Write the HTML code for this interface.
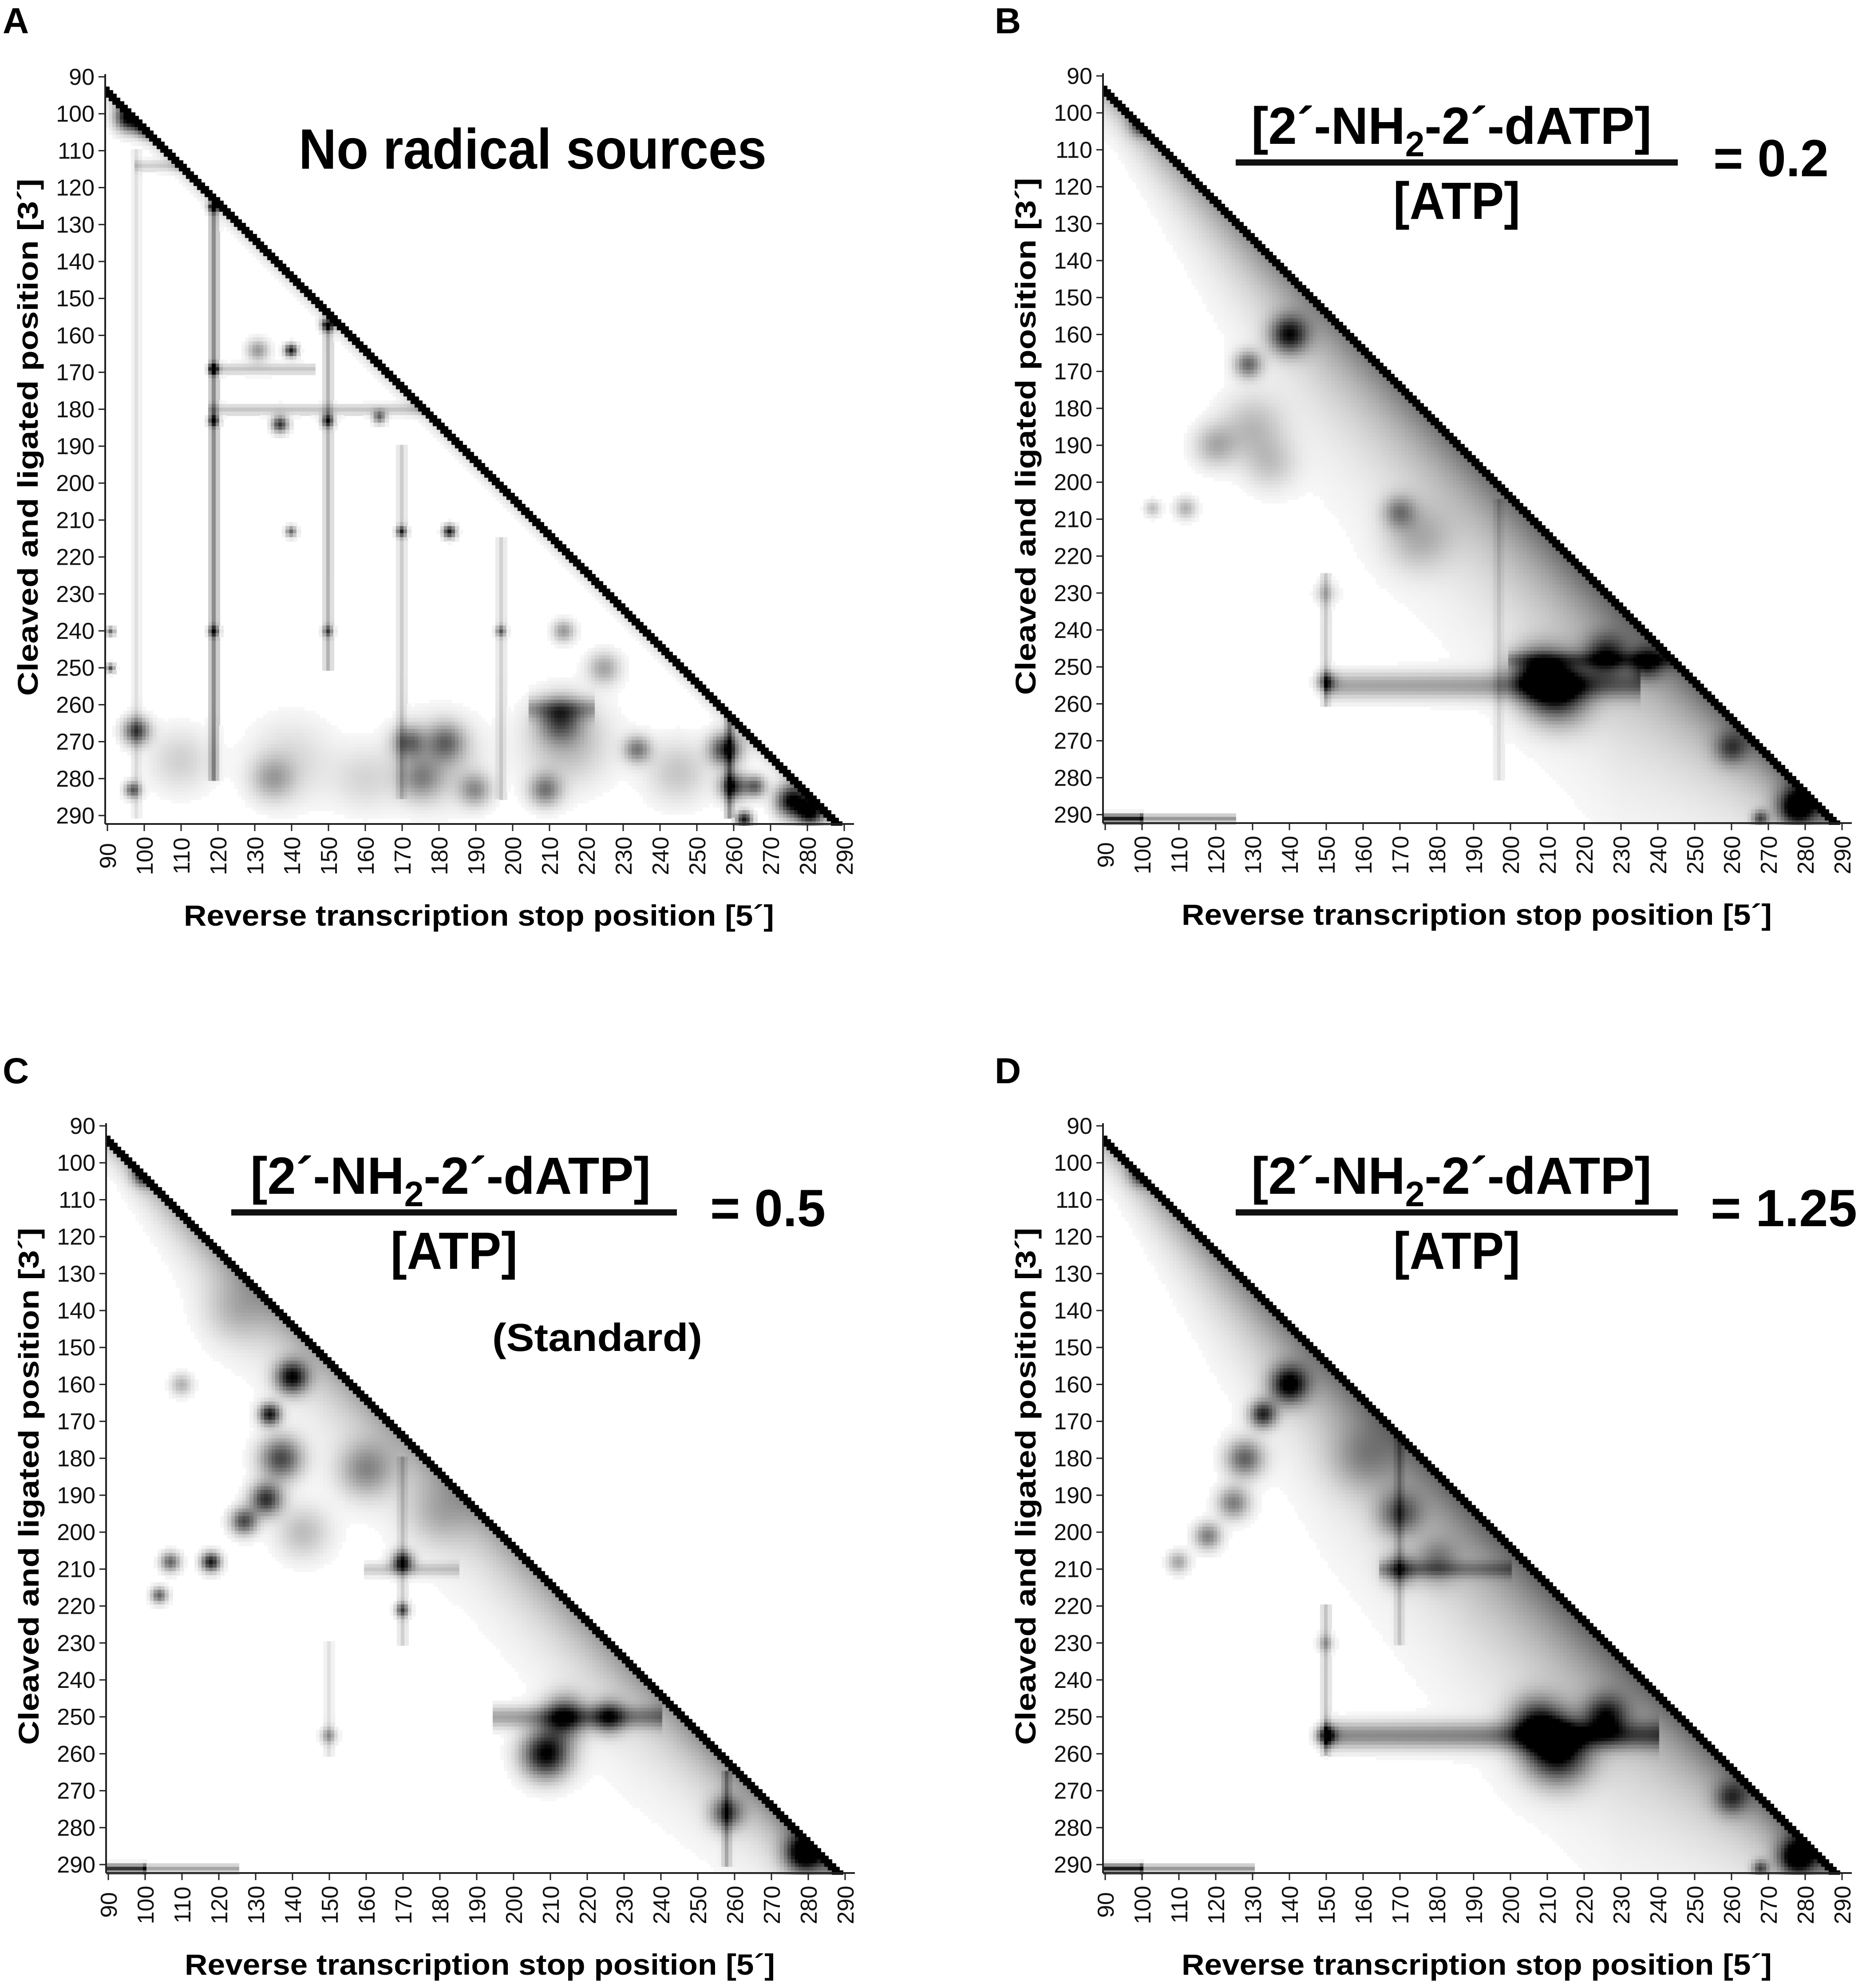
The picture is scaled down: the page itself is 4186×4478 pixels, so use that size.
<!DOCTYPE html>
<html><head><meta charset="utf-8">
<style>
html,body{margin:0;padding:0;background:#fff;}
#root{position:relative;width:4186px;height:4478px;overflow:hidden;background:#fff;}
canvas{position:absolute;left:0;top:0;}
svg{position:absolute;left:0;top:0;}
</style></head>
<body>
<div id="root">
<canvas id="cv" width="4186" height="4478"></canvas>
<svg id="sv" width="4186" height="4478" xmlns="http://www.w3.org/2000/svg"></svg>
</div>
<script>
// ---- axis tick values ----
const tickValues = [90,100,110,120,130,140,150,160,170,180,190,200,210,220,230,240,250,260,270,280,290];
const panelLetters = ["A","B","C","D"];

// ---- Panel A data (col = RT stop position, row = cleaved/ligated position) ----
const spotColA = [96,101,119,150,140,119,131,137,150,164,119,183,170,140,98,97,172,182,213,209,234,258,260,266,276,281,263,197,119,150,91,91,214,225,175,135,190,110,140,180,215,245,160];
const spotRowA = [101,103,125,157,164,169,164,184,183,182,183,213,213,213,267,283,270,270,264,283,272,272,282,282,286,289,291,240,240,240,250,240,240,250,280,280,283,275,275,275,270,278,280];
const spotValA = [1.0,1,0.9,0.9,0.9,0.7,0.4,0.8,0.7,0.6,0.7,0.9,0.7,0.6,0.7,0.6,0.5,0.45,0.55,0.5,0.5,0.8,0.8,0.6,1,1,0.9,0.5,0.6,0.5,0.7,0.6,0.4,0.35,0.35,0.3,0.4,0.18,0.15,0.22,0.28,0.22,0.15];
const spotSpreadA = [2.5,2,1,1.2,1.2,1,2,1.5,1.2,1.2,1,1.2,1,1,2.5,1.5,3,3.5,4,3,2.5,3,2.5,2,3,2.5,1.5,1,1,1,0.8,0.8,2,3,4,4,3,6,8,8,8,6,6];
const vCol_A = [119,150,170,98,197,259];
const vStart_A = [125,157,190,110,215,262];
const vEnd_A = [280,250,285,290,285,290];
const vVal_A = [0.45,0.3,0.2,0.12,0.18,0.4];
const hRow_A = [180,169,261,114];
const hStart_A = [118,118,205,98];
const hEnd_A = [176,146,222,116];
const hVal_A = [0.22,0.22,0.3,0.18];
const hSpreadA = [1,1,2,1];
const haloColA = [90,290];
const haloValA = [0.15,0.15];
const haloDecayA = [2,2];

// ---- Panel B data ----
const spotColB = [100,140,129,120,112,103,170,213,207,226,237,150,260,278,268,150,130,135,175];
const spotRowB = [103,160,168,190,207,207,208,256,252,247,249,254,272,288,291,230,185,195,215];
const spotValB = [0.6,0.8,0.55,0.3,0.3,0.25,0.4,0.9,0.6,0.6,0.5,0.55,0.45,1,0.6,0.2,0.25,0.2,0.25];
const spotSpreadB = [2,3.5,2.5,4,2,1.5,3,6,5,4,3,1.8,3,3.5,1.5,2,6,5,6];
const vCol_B = [150,197];
const vStart_B = [225,205];
const vEnd_B = [260,280];
const vVal_B = [0.2,0.12];
const hRow_B = [255,291,291,248];
const hStart_B = [150,90,100,200];
const hEnd_B = [235,100,125,250];
const hVal_B = [0.35,0.9,0.4,0.25];
const hSpreadB = [2.5,0.8,0.8,1.5];
const haloColB = [92,120,150,190,230,270,290];
const haloValB = [0.3,0.4,0.5,0.55,0.6,0.55,0.5];
const haloDecayB = [5,12,18,20,22,12,6];

// ---- Panel C data ----
const spotColC = [100,140,134,137,133,127,118,107,104,170,170,160,209,214,226,258,279,110,143,150,125,180];
const spotRowC = [103,158,168,180,191,197,208,208,217,208,221,183,260,250,250,276,287,160,200,255,140,195];
const spotValC = [0.8,0.9,0.9,0.7,0.8,0.7,0.9,0.6,0.6,0.8,0.6,0.4,1,0.7,0.6,0.6,1,0.3,0.25,0.35,0.2,0.2];
const spotSpreadC = [2,3,2,4,3,2.5,1.8,1.8,1.5,2,1.3,5,4.5,4,3,3,3.5,2,5,1.5,6,6];
const vCol_C = [170,150,258];
const vStart_C = [180,230,265];
const vEnd_C = [230,260,290];
const vVal_C = [0.18,0.12,0.3];
const hRow_C = [250,291,291,210];
const hStart_C = [195,90,100,160];
const hEnd_C = [240,100,125,185];
const hVal_C = [0.35,0.8,0.35,0.2];
const hSpreadC = [2,0.8,0.8,1.2];
const haloColC = [92,120,150,190,230,270,290];
const haloValC = [0.25,0.35,0.35,0.35,0.4,0.45,0.5];
const haloDecayC = [4,10,12,12,14,10,5];

// ---- Panel D data ----
const spotColD = [100,140,133,128,125,118,110,170,170,150,213,207,226,260,278,268,150,180,160];
const spotRowD = [103,160,168,180,192,201,208,195,210,255,259,252,250,272,288,291,230,208,180];
const spotValD = [0.6,0.9,0.8,0.6,0.5,0.5,0.35,0.5,0.5,0.85,1,0.7,0.7,0.5,1,0.6,0.25,0.35,0.25];
const spotSpreadD = [2,3.5,2.5,3.5,3,2.5,2,4,3,1.8,6,5,4,3,3.5,1.5,1.5,4,6];
const vCol_D = [150,170];
const vStart_D = [220,160];
const vEnd_D = [260,230];
const vVal_D = [0.22,0.2];
const hRow_D = [255,291,291,210];
const hStart_D = [150,90,100,165];
const hEnd_D = [240,100,130,200];
const hVal_D = [0.45,0.9,0.4,0.25];
const hSpreadD = [2.5,0.8,0.8,1.5];
const haloColD = [92,120,150,190,230,270,290];
const haloValD = [0.3,0.45,0.55,0.6,0.6,0.55,0.5];
const haloDecayD = [5,12,18,22,22,12,6];

const panels = [
  {ox:237, oy:173, sc:spotColA, sr:spotRowA, sv:spotValA, ss:spotSpreadA, vc:vCol_A, vs:vStart_A, ve:vEnd_A, vv:vVal_A, hr:hRow_A, hs:hStart_A, he:hEnd_A, hv:hVal_A, hsp:hSpreadA, kc:haloColA, kv:haloValA, kd:haloDecayA},
  {ox:2485, oy:171, sc:spotColB, sr:spotRowB, sv:spotValB, ss:spotSpreadB, vc:vCol_B, vs:vStart_B, ve:vEnd_B, vv:vVal_B, hr:hRow_B, hs:hStart_B, he:hEnd_B, hv:hVal_B, hsp:hSpreadB, kc:haloColB, kv:haloValB, kd:haloDecayB},
  {ox:239, oy:2536, sc:spotColC, sr:spotRowC, sv:spotValC, ss:spotSpreadC, vc:vCol_C, vs:vStart_C, ve:vEnd_C, vv:vVal_C, hr:hRow_C, hs:hStart_C, he:hEnd_C, hv:hVal_C, hsp:hSpreadC, kc:haloColC, kv:haloValC, kd:haloDecayC},
  {ox:2485, oy:2536, sc:spotColD, sr:spotRowD, sv:spotValD, ss:spotSpreadD, vc:vCol_D, vs:vStart_D, ve:vEnd_D, vv:vVal_D, hr:hRow_D, hs:hStart_D, he:hEnd_D, hv:hVal_D, hsp:hSpreadD, kc:haloColD, kv:haloValD, kd:haloDecayD}
];

const XS = 8.3, YS = 8.32;
function xScale(p, P){ return P.ox + 5 + (p-90)*XS; }
function yScale(p, P){ return P.oy + (p-90)*YS; }

function interp(xs, ys, x){
  if (x<=xs[0]) return ys[0];
  for (let i=1;i<xs.length;i++){
    if (x<=xs[i]){ const t=(x-xs[i-1])/(xs[i]-xs[i-1]); return ys[i-1]+t*(ys[i]-ys[i-1]); }
  }
  return ys[ys.length-1];
}

function intensity(P, c, r){
  const d = r - (c+3);
  if (d < 0) return 0;
  if (d < 2.5) return 1;
  let s = 0;
  const hv = interp(P.kc, P.kv, c), hd = interp(P.kc, P.kd, c);
  s += hv*Math.exp(-(d-2.5)/hd);
  for (let i=0;i<P.sc.length;i++){
    const dx=c-P.sc[i], dy=r-P.sr[i], sp=P.ss[i];
    const q=(dx*dx+dy*dy)/(2*sp*sp);
    if (q<12) s += P.sv[i]*Math.exp(-q);
  }
  for (let i=0;i<P.vc.length;i++){
    if (r>=P.vs[i] && r<=P.ve[i]){ const dx=c-P.vc[i]; s += P.vv[i]*Math.exp(-dx*dx/1.2); }
  }
  for (let i=0;i<P.hr.length;i++){
    if (c>=P.hs[i] && c<=P.he[i]){ const dy=r-P.hr[i], sp=P.hsp[i]; s += P.hv[i]*Math.exp(-dy*dy/(2*sp*sp)); }
  }
  return Math.min(1,s);
}

const ctx = document.getElementById('cv').getContext('2d');
panels.forEach(P=>{
  for (let c=90;c<290;c++){
    for (let r=c+3;r<=292;r++){
      const I = intensity(P,c,r);
      if (I<0.03) continue;
      const g = Math.round(255*(1-I));
      ctx.fillStyle = 'rgb('+g+','+g+','+g+')';
      const x0 = xScale(c,P)-5, y0 = yScale(r-0.35,P);
      ctx.fillRect(Math.floor(x0), Math.floor(y0), Math.ceil(XS)+1, Math.ceil(YS)+1);
    }
  }
});

// ---- SVG annotations ----
const NS = 'http://www.w3.org/2000/svg';
const sv = document.getElementById('sv');
function mk(tag, attrs, parent){
  const e = document.createElementNS(NS, tag);
  for (const k in attrs) e.setAttribute(k, attrs[k]);
  (parent||sv).appendChild(e);
  return e;
}
const FONT = '"Liberation Sans", Arial, sans-serif';

const titleTexts = ["", "= 0.2", "= 0.5", "= 1.25"];
panels.forEach((P, pi)=>{
  const g = mk('g', {});
  
  
  const lx = pi%2===0 ? 6 : 2241;
  const ly = pi<2 ? 75 : 2440;
  const lt = mk('text', {x:lx, y:ly, 'font-family':FONT, 'font-weight':'bold', 'font-size':82}, g);
  lt.textContent = panelLetters[pi];
  
  
  const bottom = P.oy + 1683;
  const yAx = mk('line', {x1:P.ox, y1:P.oy-6, x2:P.ox, y2:bottom, stroke:'#222', 'stroke-width':4}, g);
  
  
  const xAx = mk('line', {x1:P.ox, y1:bottom, x2:P.ox+1687, y2:bottom, stroke:'#222', 'stroke-width':4}, g);
  
  
  tickValues.forEach(v=>{
    const ty = yScale(v,P);
    const tk = mk('line', {x1:P.ox-15, y1:ty, x2:P.ox, y2:ty, stroke:'#222', 'stroke-width':3}, g);
    
    
    const tl = mk('text', {x:P.ox-24, y:ty+18, 'text-anchor':'end', 'font-family':FONT, 'font-size':52, fill:'#111'}, g);
    tl.textContent = v;
    
    
    const tx = xScale(v,P);
    const xt = mk('line', {x1:tx, y1:bottom, x2:tx, y2:bottom+16, stroke:'#222', 'stroke-width':3}, g);
    
    
    const xl = mk('text', {x:0, y:0, 'text-anchor':'middle', 'font-family':FONT, 'font-size':52, fill:'#111', transform:'translate('+(tx+19)+','+(bottom+72)+') rotate(-90)'}, g);
    xl.textContent = v;
    
    
  });
  const yt = mk('text', {x:0, y:0, 'text-anchor':'middle', 'font-family':FONT, 'font-weight':'bold', 'font-size':64, textLength:1165, lengthAdjust:'spacingAndGlyphs', transform:'translate('+(P.ox-152)+','+(P.oy+812)+') rotate(-90)'}, g);
  yt.textContent = 'Cleaved and ligated position [3\u00b4]';
  
  
  const xt = mk('text', {x:P.ox+842, y:P.oy+1912, 'text-anchor':'middle', 'font-family':FONT, 'font-weight':'bold', 'font-size':66, textLength:1330, lengthAdjust:'spacingAndGlyphs'}, g);
  xt.textContent = 'Reverse transcription stop position [5\u00b4]';
  
  

  if (pi===0){
    const t = mk('text', {x:673, y:380, 'font-family':FONT, 'font-weight':'bold', 'font-size':128, textLength:1054, lengthAdjust:'spacingAndGlyphs'}, g);
    t.textContent = 'No radical sources';
    
    
  } else {
    const lineL = pi===2 ? 282 : 299, lineR = pi===2 ? 1286 : 1295;
    const numL = pi===2 ? 325 : 334;
    const num = mk('text', {x:P.ox+numL, y:P.oy+153, 'font-family':FONT, 'font-weight':'bold', 'font-size':118, textLength:902, lengthAdjust:'spacingAndGlyphs'}, g);
    num.innerHTML = '[2\u00b4-NH<tspan dy="28" font-size="80">2</tspan><tspan dy="-28">-2\u00b4-dATP]</tspan>';
    
    
    const fl = mk('rect', {x:P.ox+lineL, y:P.oy+188, width:lineR-lineL, height:14, fill:'#111'}, g);
    
    
    const den = mk('text', {x:P.ox+(lineL+lineR)/2, y:P.oy+322, 'text-anchor':'middle', 'font-family':FONT, 'font-weight':'bold', 'font-size':118, textLength:286, lengthAdjust:'spacingAndGlyphs'}, g);
    den.textContent = '[ATP]';
    
    
    const eqL = pi===1 ? 1375 : (pi===2 ? 1361 : 1369);
    const eqW = pi===3 ? 330 : 260;
    const eq = mk('text', {x:P.ox+eqL, y:P.oy+226, 'font-family':FONT, 'font-weight':'bold', 'font-size':118, textLength:eqW, lengthAdjust:'spacingAndGlyphs'}, g);
    eq.textContent = titleTexts[pi];
    
    
    if (pi===2){
      const st = mk('text', {x:1109, y:P.oy+507, 'font-family':FONT, 'font-weight':'bold', 'font-size':88, textLength:473, lengthAdjust:'spacingAndGlyphs'}, g);
      st.textContent = '(Standard)';
      
      
    }
  }
});
</script>
</body></html>
